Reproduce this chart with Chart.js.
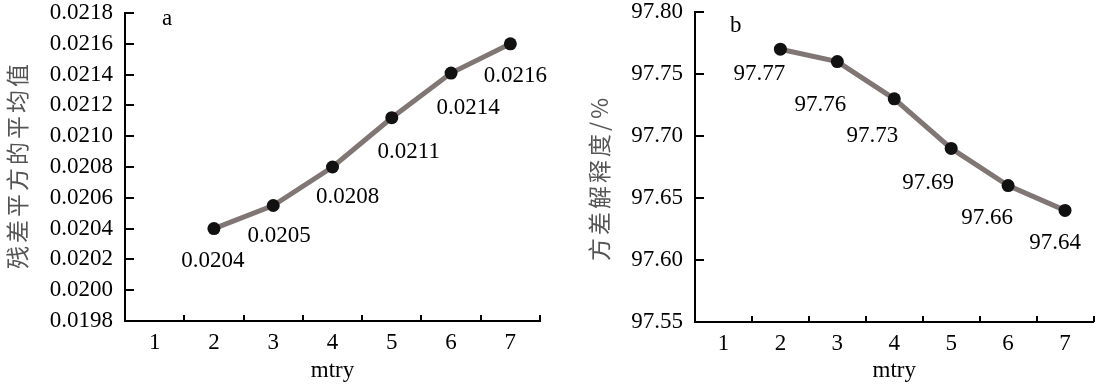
<!DOCTYPE html>
<html><head><meta charset="utf-8">
<script src="https://cdn.jsdelivr.net/npm/chart.js@4.4.0/dist/chart.umd.min.js"></script>
<style>
html,body{margin:0;padding:0;background:#fff;}
#wrap{position:relative;width:1100px;height:385px;overflow:hidden;}
.c{position:absolute;top:0;width:550px;height:385px;}
canvas{display:block;}
</style></head><body>
<div id="wrap">
<div class="c" style="left:0"><canvas id="ca" width="550" height="385"></canvas></div>
<div class="c" style="left:550px"><canvas id="cb" width="550" height="385"></canvas></div>
</div>
<script>
// ---- data ----
const categories = ['1', '2', '3', '4', '5', '6', '7'];
const mseValues = [null, 0.02040, 0.02055, 0.02080, 0.02112, 0.02141, 0.02160];
const mseLabels = [null, '0.0204', '0.0205', '0.0208', '0.0211', '0.0214', '0.0216'];
const mseTicks = [0.0198, 0.0200, 0.0202, 0.0204, 0.0206, 0.0208, 0.0210, 0.0212, 0.0214, 0.0216, 0.0218];
const varValues = [null, 97.77, 97.76, 97.73, 97.69, 97.66, 97.64];
const varLabels = [null, '97.77', '97.76', '97.73', '97.69', '97.66', '97.64'];
const varTicks = [97.55, 97.60, 97.65, 97.70, 97.75, 97.80];
const xTitle = 'mtry';
const mseTitle = '残差平方的平均值';
const varTitle = '方差解释度/%';

const SERIF = '"Liberation Serif", "Times New Roman", serif';

const decor = {
  id: 'decor',
  afterDraw(chart, args, o) {
    const {ctx, chartArea: a, scales: {x, y}} = chart;
    ctx.save();
    // inward tick marks
    ctx.strokeStyle = '#000';
    ctx.lineWidth = 2;
    ctx.beginPath();
    y.ticks.forEach(t => {
      const py = Math.round(y.getPixelForValue(t.value));
      ctx.moveTo(a.left, py);
      ctx.lineTo(a.left + o.yTick, py);
    });
    const n = x.ticks.length;
    for (let i = 1; i <= n; i++) {
      const px = Math.round(x.getPixelForValue(i - 0.5));
      ctx.moveTo(px, a.bottom);
      ctx.lineTo(px, a.bottom - o.xTick);
    }
    ctx.stroke();
    // data labels
    const meta = chart.getDatasetMeta(0);
    ctx.font = '23px ' + SERIF;
    ctx.fillStyle = '#000';
    ctx.textAlign = 'center';
    ctx.textBaseline = 'middle';
    meta.data.forEach((pt, i) => {
      const txt = o.labels[i];
      if (!txt) return;
      const off = o.offsets[i];
      ctx.fillText(txt, pt.x + off[0], pt.y + off[1]);
    });
    // panel letter
    ctx.textAlign = 'left';
    ctx.textBaseline = 'alphabetic';
    ctx.fillText(o.letter, a.left + o.letterDx, o.letterY);
    // y title
    ctx.font = '23px "Noto Sans CJK SC"';
    ctx.fillStyle = '#555';
    try { ctx.letterSpacing = '3px'; } catch (e) {}
    ctx.translate(o.titleX, (a.top + a.bottom) / 2 + o.titleDy);
    ctx.rotate(-Math.PI / 2);
    ctx.textAlign = 'center';
    ctx.textBaseline = 'middle';
    ctx.fillText(o.title, 0, 0);
    ctx.restore();
  }
};

function makeChart(id, values, ticks, digits, cfg) {
  return new Chart(document.getElementById(id), {
    type: 'line',
    data: {
      labels: categories,
      datasets: [{
        data: values,
        borderColor: '#807775',
        borderWidth: 5,
        tension: 0,
        pointRadius: 6.5,
        pointHoverRadius: 6.5,
        pointBackgroundColor: '#111',
        pointBorderWidth: 0,
        fill: false
      }]
    },
    options: {
      responsive: false,
      animation: false,
      events: [],
      layout: {padding: cfg.padding},
      plugins: {
        legend: {display: false},
        tooltip: {enabled: false},
        decor: cfg.decor
      },
      scales: {
        x: {
          type: 'category',
          offset: true,
          grid: {display: false, drawTicks: false, offset: true},
          border: {display: true, color: '#000', width: 2},
          ticks: {color: '#000', font: {family: SERIF, size: 23, lineHeight: 1.2}, padding: 8, maxRotation: 0, autoSkip: false},
          title: {display: true, text: xTitle, color: '#000', font: {family: SERIF, size: 23, lineHeight: 1.2}, padding: {top: 0, bottom: 0}},
          afterFit: s => { s.height = cfg.xHeight; s.paddingLeft = 0; s.paddingRight = 0; }
        },
        y: {
          min: ticks[0],
          max: ticks[ticks.length - 1],
          grid: {display: false, drawTicks: false},
          border: {display: true, color: '#000', width: 2},
          afterBuildTicks: s => { s.ticks = ticks.map(v => ({value: v})); },
          ticks: {
            color: '#000',
            font: {family: SERIF, size: 23, lineHeight: 1},
            padding: 12,
            callback: v => Number(v).toFixed(digits)
          },
          afterFit: s => { s.width = cfg.yWidth; s.paddingTop = 0; s.paddingBottom = 0; }
        }
      }
    },
    plugins: [decor]
  });
}

makeChart('ca', mseValues, mseTicks, 4, {
  padding: {left: 0, right: 10, top: 13, bottom: 0},
  xHeight: 64,
  yWidth: 125,
  decor: {
    yTick: 9, xTick: 6,
    labels: mseLabels,
    offsets: [null, [-1, 32], [6, 30], [15, 30], [17, 34], [17, 35], [5, 32]],
    letter: 'a', letterDx: 37, letterY: 25,
    title: mseTitle, titleX: 17, titleDy: -2
  }
});

makeChart('cb', varValues, varTicks, 2, {
  padding: {left: 0, right: 2, top: 12, bottom: 0},
  xHeight: 63,
  yWidth: 145,
  decor: {
    yTick: 9, xTick: 6,
    labels: varLabels,
    offsets: [null, [-21, 25], [-17, 43], [-22, 37], [-23, 35], [-21, 32], [-10, 33]],
    letter: 'b', letterDx: 35, letterY: 32,
    title: varTitle, titleX: 49, titleDy: 11
  }
});
</script>
</body></html>
